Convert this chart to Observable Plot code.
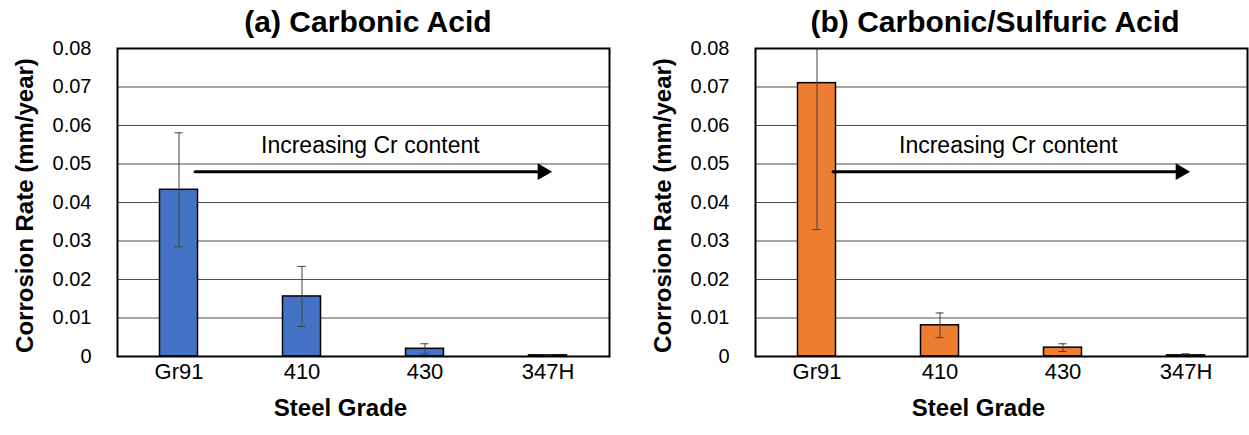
<!DOCTYPE html>
<html><head><meta charset="utf-8">
<script src="https://cdn.jsdelivr.net/npm/d3@7"></script>
<script src="https://cdn.jsdelivr.net/npm/@observablehq/plot@0.6"></script>
<style>
body{margin:0;background:#fff;font-family:"Liberation Sans",Arial,sans-serif;}
#wrap{position:relative;width:1249px;height:435px;overflow:hidden;background:#fff;}
.panel{position:absolute;top:0;}
.title{box-sizing:border-box;height:40px;padding-top:4px;line-height:36px;font-weight:bold;font-size:30px;text-align:center;color:#000;white-space:nowrap;}
.panel svg{overflow:visible;}
</style></head><body><div id="wrap"></div>
<script>
// ---- data ----
const grades = ["Gr91", "410", "430", "347H"];
const carbonicRate = [0.0433, 0.0156, 0.0020, 0.0003];
const carbonicErr  = [0.0148, 0.0078, 0.0013, 0.0001];
const sulfuricRate = [0.0710, 0.0081, 0.0023, 0.0003];
const sulfuricErr  = [0.0380, 0.0032, 0.0010, 0.0004];
const yTicks = [0, 0.01, 0.02, 0.03, 0.04, 0.05, 0.06, 0.07, 0.08];
const gridTicks = [0.01, 0.02, 0.03, 0.04, 0.05, 0.06, 0.07];
const titles = ["(a) Carbonic Acid", "(b) Carbonic/Sulfuric Acid"];
const yLabel = "Corrosion Rate (mm/year)";
const xLabel = "Steel Grade";
const noteText = "Increasing Cr content";
const arrowFrom = "Gr91", arrowTo = "347H";
const arrowY = 0.048, noteY = 0.0548;

const font = "'Liberation Sans', Arial, sans-serif";

function panel({title, rates, errs, color, left, width, marginRight, titlePad}) {
  const rows = grades.map((g, i) => ({grade: g, rate: rates[i], lo: rates[i] - errs[i], hi: rates[i] + errs[i]}));
  const arrowRows = [{from: arrowFrom, to: arrowTo, y: arrowY}];
  const noteRows = [{x: arrowFrom, y: noteY, text: noteText}];
  const div = document.createElement("div");
  div.className = "panel";
  div.style.left = left + "px";
  div.style.width = width + "px";
  const t = document.createElement("div");
  t.className = "title";
  t.style.paddingLeft = titlePad + "px";
  t.textContent = title;
  div.appendChild(t);
  const chart = Plot.plot({
    width, height: 395,
    marginLeft: 117, marginRight, marginTop: 8, marginBottom: 79,
    style: {fontFamily: font, background: "white", color: "#000", overflow: "visible"},
    x: {type: "band", domain: grades, padding: 0, axis: null},
    y: {domain: [0, 0.08], axis: null},
    marks: [
      Plot.ruleY(gridTicks, {stroke: "#4d4d4d", strokeWidth: 1}),
      Plot.barY(rows, {x: "grade", y: "rate", fill: color, stroke: "#000", strokeWidth: 1.5, insetLeft: 42.5, insetRight: 42.5}),
      Plot.ruleX(rows, {x: "grade", y1: "lo", y2: "hi", stroke: "#404040", strokeWidth: 1, clip: true}),
      Plot.tickY(rows, {x: "grade", y: "lo", stroke: "#404040", strokeWidth: 1, insetLeft: 57.5, insetRight: 57.5, clip: true}),
      Plot.tickY(rows, {x: "grade", y: "hi", stroke: "#404040", strokeWidth: 1, insetLeft: 57.5, insetRight: 57.5, clip: true}),
      Plot.arrow(arrowRows, {x1: "from", x2: "to", y1: "y", y2: "y", headLength: 0, stroke: "#000", strokeWidth: 3, insetStart: 16, insetEnd: 4}),
      Plot.dot(arrowRows, {x: "to", y: "y", symbol: "triangle", r: 6.2, rotate: 90, fill: "#000", stroke: "none", dx: -5.5}),
      Plot.text(noteRows, {x: "x", y: "y", text: "text", textAnchor: "start", dx: 82, fontSize: 23, fill: "#000"}),
      Plot.frame({stroke: "#000", strokeWidth: 2}),
      Plot.axisY({ticks: yTicks, tickSize: 0, tickPadding: 26, fontSize: 20, label: null,
                  tickFormat: d => d === 0 ? "0" : d.toFixed(2)}),
      Plot.axisX({tickSize: 0, tickPadding: 7, fontSize: 22, label: null}),
      Plot.text([yLabel], {frameAnchor: "left", textAnchor: "middle", lineAnchor: "middle", rotate: -90, dx: -92, dy: 3, fontSize: 24, fontWeight: "bold", fill: "#000"}),
      Plot.text([xLabel], {frameAnchor: "bottom", textAnchor: "middle", dy: 59, dx: -23, fontSize: 24, fontWeight: "bold", fill: "#000"})
    ]
  });
  div.appendChild(chart);
  document.getElementById("wrap").appendChild(div);
}

panel({title: titles[0], rates: carbonicRate, errs: carbonicErr, color: "#4472C4", left: 0, width: 624, marginRight: 15, titlePad: 112});
panel({title: titles[1], rates: sulfuricRate, errs: sulfuricErr, color: "#ED7D31", left: 638, width: 611, marginRight: 2, titlePad: 103});
</script>
</body></html>
